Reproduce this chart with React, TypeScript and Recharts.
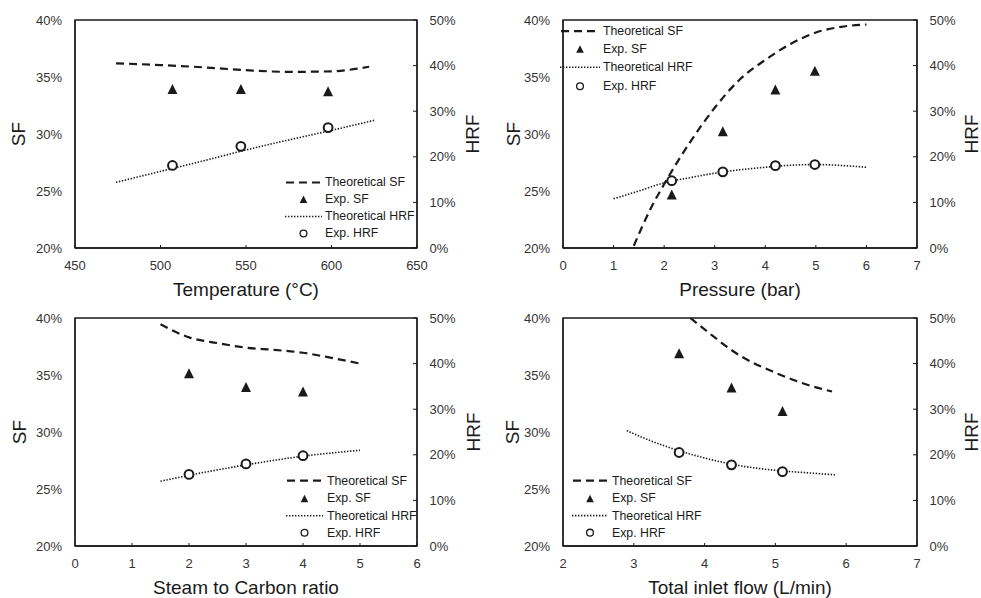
import React from "react";
import {
  ComposedChart,
  Line,
  Scatter,
  XAxis,
  YAxis,
  Legend,
  ReferenceArea,
} from "recharts";

const FONT = '"Liberation Sans", Arial, Helvetica, sans-serif';
const INK = "#1a1a1a";
const TICK_INK = "#333333";
const DASH = "8 5";
const DOTS = "1.4 1.6";

const SF_TICKS = [20, 25, 30, 35, 40];
const HRF_TICKS = [0, 10, 20, 30, 40, 50];
const LEGEND_NAMES = ["Theoretical SF", "Exp. SF", "Theoretical HRF", "Exp. HRF"];

// temperature panel
const tempTicks = [450, 500, 550, 600, 650];
const tempTheoSfX = [474, 500, 525, 550, 575, 600, 622];
const tempTheoSf = [36.2, 36.05, 35.85, 35.6, 35.45, 35.5, 35.9];
const tempTheoHrfX = [474, 500, 525, 550, 575, 600, 625];
const tempTheoHrf = [14.4, 16.8, 19.1, 21.5, 23.7, 25.8, 28.0];
const tempExpX = [507, 547, 598];
const tempExpSf = [33.9, 33.9, 33.7];
const tempExpHrf = [18.1, 22.3, 26.4];

// pressure panel
const presTicks = [0, 1, 2, 3, 4, 5, 6, 7];
const presTheoSfX = [1.4, 1.75, 2.0, 2.5, 3.0, 3.5, 4.0, 4.5, 5.0, 5.5, 6.0];
const presTheoSf = [20.2, 23.6, 25.6, 29.2, 32.3, 34.8, 36.5, 37.9, 38.9, 39.4, 39.6];
const presTheoHrfX = [1.0, 1.5, 2.0, 2.5, 3.0, 3.5, 4.0, 4.5, 5.0, 5.5, 6.0];
const presTheoHrf = [10.8, 12.5, 14.3, 15.4, 16.4, 17.15, 17.7, 18.15, 18.3, 18.1, 17.7];
const presExpX = [2.15, 3.16, 4.2, 4.98];
const presExpSf = [24.65, 30.2, 33.86, 35.5];
const presExpHrf = [14.76, 16.7, 18.05, 18.3];

// steam to carbon panel
const scTicks = [0, 1, 2, 3, 4, 5, 6];
const scTheoX = [1.5, 2, 2.5, 3, 3.5, 4, 4.5, 5];
const scTheoSf = [39.45, 38.3, 37.8, 37.4, 37.2, 36.95, 36.5, 36.0];
const scTheoHrf = [14.2, 15.5, 16.7, 17.8, 18.8, 19.7, 20.4, 21.0];
const scExpX = [2, 3, 4];
const scExpSf = [35.1, 33.9, 33.5];
const scExpHrf = [15.7, 18.0, 19.8];

// total inlet flow panel
const flowTicks = [2, 3, 4, 5, 6, 7];
const flowTheoSfX = [3.8, 4.0, 4.5, 5.0, 5.5, 5.8];
const flowTheoSf = [40.0, 39.0, 36.7, 35.2, 34.05, 33.55];
const flowTheoHrfX = [2.9, 3.25, 3.5, 4.0, 4.5, 5.0, 5.5, 5.85];
const flowTheoHrf = [25.3, 23.0, 21.6, 19.3, 17.6, 16.6, 16.0, 15.6];
const flowExpX = [3.64, 4.38, 5.1];
const flowExpSf = [36.87, 33.86, 31.8];
const flowExpHrf = [20.5, 17.8, 16.3];

type Pt = { x: number; y: number };
const pts = (xs: number[], ys: number[]): Pt[] => xs.map((x, i) => ({ x, y: ys[i] }));
const pct = (v: number) => `${v}%`;

const Tri = (p: any) => (
  <polygon
    points={`${p.cx},${p.cy - 5.5} ${p.cx + 5},${p.cy + 4.5} ${p.cx - 5},${p.cy + 4.5}`}
    fill={INK}
  />
);

const Ring = (p: any) => (
  <circle cx={p.cx} cy={p.cy} r={4.4} fill="#fff" stroke={INK} strokeWidth={2} />
);

type LegendCfg = { left: number; top: number; rowH: number; iconW: number; gap: number };

function LegendBox({ cfg }: { cfg: LegendCfg }) {
  const { rowH, iconW, gap } = cfg;
  const mid = rowH / 2;
  const icon = (i: number) => {
    if (i === 0)
      return <line x1={1} x2={iconW} y1={mid} y2={mid} stroke={INK} strokeWidth={2.2} strokeDasharray={DASH} />;
    if (i === 1) {
      const c = iconW / 2;
      return <polygon points={`${c},${mid - 4} ${c + 3.8},${mid + 3.5} ${c - 3.8},${mid + 3.5}`} fill={INK} />;
    }
    if (i === 2)
      return <line x1={0} x2={iconW} y1={mid} y2={mid} stroke={INK} strokeWidth={1.6} strokeDasharray={DOTS} />;
    return <circle cx={iconW / 2} cy={mid} r={3.4} fill="#fff" stroke={INK} strokeWidth={1.3} />;
  };
  return (
    <div style={{ fontFamily: FONT, fontSize: 12.3, color: INK, whiteSpace: "nowrap" }}>
      {LEGEND_NAMES.map((name, i) => (
        <div key={name} style={{ display: "flex", alignItems: "center", height: rowH }}>
          <svg width={iconW} height={rowH} style={{ display: "block" }}>
            {icon(i)}
          </svg>
          <span style={{ marginLeft: gap }}>{name}</span>
        </div>
      ))}
    </div>
  );
}

type PanelProps = {
  left: number;
  top: number;
  xLabel: string;
  xTicks: number[];
  theoSf: Pt[];
  theoHrf: Pt[];
  expSf: Pt[];
  expHrf: Pt[];
  leftW: number;
  rightW: number;
  sfOffset: number;
  hrfOffset: number;
  legend: LegendCfg;
};

function Panel(props: PanelProps) {
  const { xTicks } = props;
  const xMin = xTicks[0];
  const xMax = xTicks[xTicks.length - 1];
  const axisStyle = { stroke: INK, strokeWidth: 1.3 };
  const tickStyle = { fill: TICK_INK, fontSize: 13 };

  return (
    <div style={{ position: "absolute", left: props.left, top: props.top }}>
      <ComposedChart width={490} height={300} margin={{ top: 20, right: 0, bottom: 0, left: 0 }}>
        <XAxis
          type="number"
          dataKey="x"
          domain={[xMin, xMax]}
          ticks={xTicks}
          interval={0}
          allowDataOverflow
          height={52}
          axisLine={axisStyle}
          tickLine={{ stroke: INK, strokeWidth: 1 }}
          tickSize={-3}
          tickMargin={16}
          tick={tickStyle}
          label={{ value: props.xLabel, position: "insideTop", offset: 35, fontSize: 19, fill: INK }}
        />
        <YAxis
          yAxisId="sf"
          dataKey="y"
          type="number"
          domain={[20, 40]}
          ticks={SF_TICKS}
          interval={0}
          allowDataOverflow
          width={props.leftW}
          axisLine={axisStyle}
          tickLine={false}
          tickSize={0}
          tickMargin={13}
          tick={tickStyle}
          tickFormatter={pct}
          label={{
            value: "SF",
            angle: -90,
            position: "insideLeft",
            offset: props.sfOffset,
            fontSize: 19,
            fill: INK,
            style: { textAnchor: "middle" },
          }}
        />
        <YAxis
          yAxisId="hrf"
          dataKey="y"
          type="number"
          orientation="right"
          domain={[0, 50]}
          ticks={HRF_TICKS}
          interval={0}
          allowDataOverflow
          width={props.rightW}
          axisLine={axisStyle}
          tickLine={{ stroke: INK, strokeWidth: 1 }}
          tickSize={-4}
          tickMargin={16.5}
          tick={tickStyle}
          tickFormatter={pct}
          label={{
            value: "HRF",
            angle: -90,
            position: "insideRight",
            offset: props.hrfOffset,
            fontSize: 19,
            fill: INK,
            style: { textAnchor: "middle" },
          }}
        />
        <ReferenceArea
          yAxisId="sf"
          x1={xMin}
          x2={xMax}
          y1={20}
          y2={40}
          fill="none"
          stroke={INK}
          strokeWidth={1.3}
          ifOverflow="visible"
        />
        <Line
          yAxisId="sf"
          data={props.theoSf}
          dataKey="y"
          name="Theoretical SF"
          type="monotone"
          stroke={INK}
          strokeWidth={2.2}
          strokeDasharray={DASH}
          dot={false}
          activeDot={false}
          isAnimationActive={false}
        />
        <Line
          yAxisId="hrf"
          data={props.theoHrf}
          dataKey="y"
          name="Theoretical HRF"
          type="monotone"
          stroke={INK}
          strokeWidth={1.6}
          strokeDasharray={DOTS}
          dot={false}
          activeDot={false}
          isAnimationActive={false}
        />
        <Scatter
          yAxisId="sf"
          data={props.expSf}
          dataKey="y"
          name="Exp. SF"
          shape={Tri}
          isAnimationActive={false}
        />
        <Scatter
          yAxisId="hrf"
          data={props.expHrf}
          dataKey="y"
          name="Exp. HRF"
          shape={Ring}
          isAnimationActive={false}
        />
        <Legend
          layout="vertical"
          align="center"
          verticalAlign="middle"
          wrapperStyle={{ left: props.legend.left, top: props.legend.top, width: "auto" }}
          content={() => <LegendBox cfg={props.legend} />}
        />
      </ComposedChart>
    </div>
  );
}

export default function App() {
  return (
    <div
      style={{
        position: "absolute",
        left: 0,
        top: 0,
        width: 981,
        height: 598,
        background: "#fff",
        fontFamily: FONT,
        overflow: "hidden",
      }}
    >
      <Panel
        left={0}
        top={0}
        xLabel="Temperature (°C)"
        xTicks={tempTicks}
        theoSf={pts(tempTheoSfX, tempTheoSf)}
        theoHrf={pts(tempTheoHrfX, tempTheoHrf)}
        expSf={pts(tempExpX, tempExpSf)}
        expHrf={pts(tempExpX, tempExpHrf)}
        leftW={75}
        rightW={73}
        sfOffset={18.5}
        hrfOffset={17.5}
        legend={{ left: 285, top: 173.5, rowH: 17, iconW: 37, gap: 3 }}
      />
      <Panel
        left={490}
        top={0}
        xLabel="Pressure (bar)"
        xTicks={presTicks}
        theoSf={pts(presTheoSfX, presTheoSf)}
        theoHrf={pts(presTheoHrfX, presTheoHrf)}
        expSf={pts(presExpX, presExpSf)}
        expHrf={pts(presExpX, presExpHrf)}
        leftW={73}
        rightW={63}
        sfOffset={23}
        hrfOffset={9}
        legend={{ left: 70, top: 21.5, rowH: 18.4, iconW: 40, gap: 3 }}
      />
      <Panel
        left={0}
        top={298}
        xLabel="Steam to Carbon ratio"
        xTicks={scTicks}
        theoSf={pts(scTheoX, scTheoSf)}
        theoHrf={pts(scTheoX, scTheoHrf)}
        expSf={pts(scExpX, scExpSf)}
        expHrf={pts(scExpX, scExpHrf)}
        leftW={75}
        rightW={73}
        sfOffset={19.5}
        hrfOffset={16.5}
        legend={{ left: 286, top: 174.3, rowH: 17.4, iconW: 37, gap: 4 }}
      />
      <Panel
        left={490}
        top={298}
        xLabel="Total inlet flow (L/min)"
        xTicks={flowTicks}
        theoSf={pts(flowTheoSfX, flowTheoSf)}
        theoHrf={pts(flowTheoHrfX, flowTheoHrf)}
        expSf={pts(flowExpX, flowExpSf)}
        expHrf={pts(flowExpX, flowExpHrf)}
        leftW={73}
        rightW={63}
        sfOffset={22.5}
        hrfOffset={9}
        legend={{ left: 82, top: 174.3, rowH: 17.3, iconW: 36, gap: 4 }}
      />
    </div>
  );
}
